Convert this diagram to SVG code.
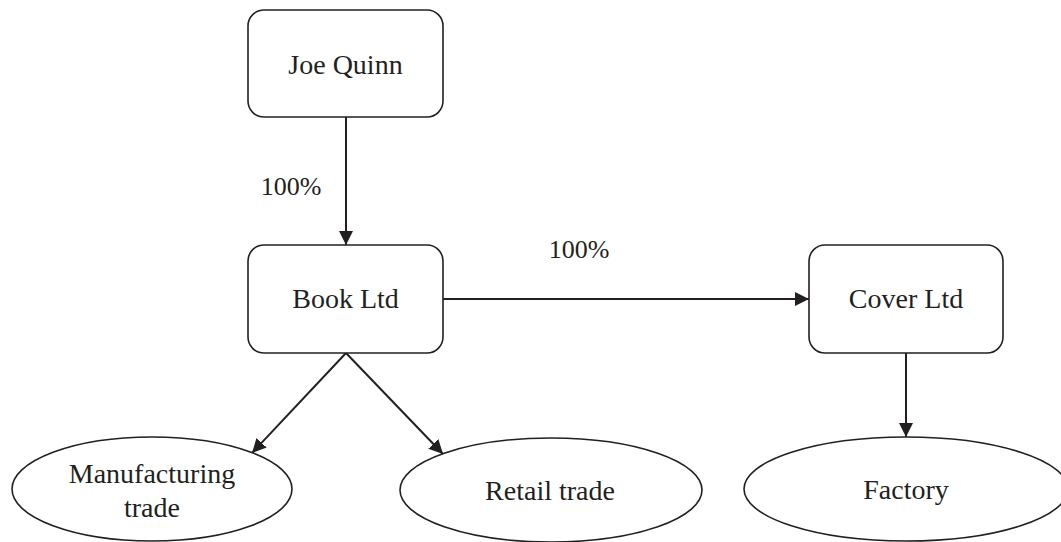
<svg xmlns="http://www.w3.org/2000/svg" width="1061" height="542" viewBox="0 0 1061 542">
<style>
.box{fill:#fff;stroke:#231f20;stroke-width:1.6}
.ell{fill:#fff;stroke:#231f20;stroke-width:1.6}
.t{font-size:28px;fill:#231f20;text-anchor:middle}
.lbl{font-size:26px;fill:#231f20;text-anchor:middle}
.c{fill:none;stroke:#231f20;stroke-width:2}
</style>
<defs>
<marker id="ah" markerUnits="userSpaceOnUse" markerWidth="16" markerHeight="14" refX="14" refY="7" orient="auto">
<path d="M0,0 L14,7 L0,14 Z" fill="#231f20"/>
</marker>
</defs>
<rect width="1061" height="542" fill="#fff"/>
<g font-family="'Liberation Serif', 'Times New Roman', Times, 'DejaVu Serif', serif">
<g id="connectors">
<line class="c" x1="346" y1="117" x2="346" y2="245" marker-end="url(#ah)"/>
<line class="c" x1="443" y1="299" x2="809" y2="299" marker-end="url(#ah)"/>
<line class="c" x1="346" y1="353" x2="252" y2="453" marker-end="url(#ah)"/>
<line class="c" x1="346" y1="353" x2="443" y2="454" marker-end="url(#ah)"/>
<line class="c" x1="906" y1="353" x2="906" y2="437" marker-end="url(#ah)"/>
<text class="lbl" x="291" y="195">100%</text>
<text class="lbl" x="579" y="258">100%</text>
</g>
<g id="joe-quinn">
<rect class="box" x="248" y="10" width="195" height="107" rx="16"/>
<text class="t" x="345.5" y="74">Joe Quinn</text>
</g>
<g id="book-ltd">
<rect class="box" x="248" y="245" width="195" height="108" rx="16"/>
<text class="t" x="345.5" y="308">Book Ltd</text>
</g>
<g id="cover-ltd">
<rect class="box" x="809" y="245" width="194" height="108" rx="16"/>
<text class="t" x="906" y="308">Cover Ltd</text>
</g>
<g id="manufacturing-trade">
<ellipse class="ell" cx="152" cy="489" rx="140" ry="52"/>
<text class="t" x="152" y="483">Manufacturing</text>
<text class="t" x="152" y="517">trade</text>
</g>
<g id="retail-trade">
<ellipse class="ell" cx="551" cy="490" rx="151" ry="52"/>
<text class="t" x="550" y="500">Retail trade</text>
</g>
<g id="factory">
<ellipse class="ell" cx="906" cy="489" rx="162" ry="52"/>
<text class="t" x="906" y="499">Factory</text>
</g>
</g>
</svg>
